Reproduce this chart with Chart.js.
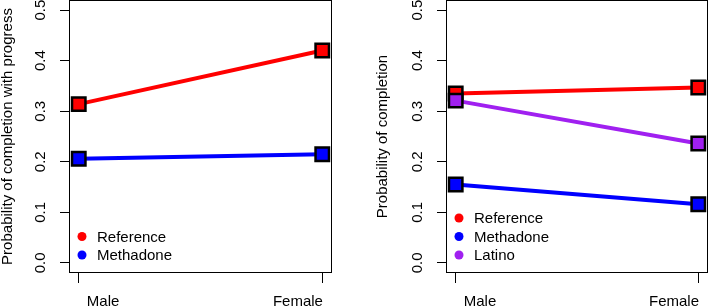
<!DOCTYPE html>
<html>
<head>
<meta charset="utf-8">
<script src="https://cdn.jsdelivr.net/npm/chart.js@4"></script>
<style>
  html, body { margin: 0; padding: 0; background: #fff; }
  #wrap { position: relative; width: 709px; height: 306px; overflow: hidden; }
  .panel { position: absolute; top: 0; height: 306px; }
  #left { left: 0; width: 354px; }
  #right { left: 354px; width: 355px; }
</style>
</head>
<body>
<div id="wrap">
  <div class="panel" id="left"><canvas id="chartLeft"></canvas></div>
  <div class="panel" id="right"><canvas id="chartRight"></canvas></div>
</div>
<script>
// values
const categories = ["Male", "Female"];
const labelShift = [0.1, -0.1]; // labels sit a bit inside their ticks
const yTicks = [0, 0.1, 0.2, 0.3, 0.4, 0.5];

const progressReference = [0.314, 0.42];
const progressMethadone = [0.206, 0.215];

const completionReference = [0.335, 0.347];
const completionMethadone = [0.155, 0.116];
const completionLatino = [0.321, 0.236];

const RED = "#ff0000";
const BLUE = "#0000ff";
const PURPLE = "#a020f0";
const FONT = "'Liberation Sans', Arial, Helvetica, sans-serif";

Chart.defaults.font.family = FONT;
Chart.defaults.font.size = 15;
Chart.defaults.color = "#000";

function makeSeries(label, values, color, idx) {
  return {
    label,
    data: values.map((v, i) => ({ x: i + 1, y: v })),
    order: -idx, // later series sit on top, as in R
    borderColor: color,
    backgroundColor: color,
    borderWidth: 4,
    pointStyle: "rect",
    pointRadius: 9.5,
    pointBackgroundColor: color,
    pointBorderColor: "#000",
    pointBorderWidth: 2.5,
    clip: false,
  };
}

// frame, rotated y labels and in-plot legend, like base R graphics
const rStyle = {
  id: "rStyle",
  beforeDatasetsDraw(chart) {
    const { ctx, chartArea: a } = chart;
    ctx.save();
    ctx.strokeStyle = "#000";
    ctx.lineWidth = 1;
    ctx.strokeRect(Math.round(a.left) + 0.5, Math.round(a.top) + 0.5,
      Math.round(a.right - a.left) - 1, Math.round(a.bottom - a.top) - 1);
    const y = chart.scales.y;
    ctx.font = "15px " + FONT;
    ctx.fillStyle = "#000";
    ctx.textAlign = "center";
    ctx.textBaseline = "middle";
    y.ticks.forEach((t) => {
      ctx.save();
      ctx.translate(a.left - 28, y.getPixelForValue(t.value));
      ctx.rotate(-Math.PI / 2);
      ctx.fillText(t.value.toFixed(1), 0, 0);
      ctx.restore();
    });
    ctx.restore();
  },
  afterDraw(chart) {
    const { ctx, chartArea: a } = chart;
    const sets = chart.data.datasets;
    ctx.save();
    ctx.font = "15px " + FONT;
    ctx.textAlign = "left";
    ctx.textBaseline = "middle";
    sets.forEach((ds, i) => {
      const rowY = a.bottom - 18 - (sets.length - 1 - i) * 18.5;
      ctx.fillStyle = ds.borderColor;
      ctx.beginPath();
      ctx.arc(a.left + 13, rowY, 4.5, 0, Math.PI * 2);
      ctx.fill();
      ctx.fillStyle = "#000";
      ctx.fillText(ds.label, a.left + 28, rowY + 1);
    });
    ctx.restore();
  },
};

function makeChart(id, datasets, yTitle, leftWidth, rightPad, titleOffset) {
  return new Chart(document.getElementById(id), {
    type: "line",
    data: { datasets },
    options: {
      responsive: true,
      maintainAspectRatio: false,
      animation: false,
      layout: { autoPadding: false, padding: { top: 0, right: rightPad, bottom: 0, left: 0 } },
      plugins: { legend: { display: false }, tooltip: { enabled: false } },
      scales: {
        // tick marks only
        x: {
          type: "linear",
          position: "bottom",
          weight: 0,
          min: 0.96,
          max: 2.04,
          afterBuildTicks: (s) => { s.ticks = categories.map((c, i) => ({ value: i + 1 })); },
          afterFit: (s) => { s.height = 10; s.paddingLeft = 0; s.paddingRight = 0; },
          ticks: { display: false },
          grid: { drawOnChartArea: false, drawTicks: true, tickLength: 10, color: "#000" },
          border: { display: false },
        },
        // category labels, nudged inwards
        xl: {
          type: "linear",
          position: "bottom",
          weight: 1,
          min: 0.96,
          max: 2.04,
          afterBuildTicks: (s) => { s.ticks = categories.map((c, i) => ({ value: i + 1 + labelShift[i] })); },
          afterFit: (s) => { s.height = 23; s.paddingLeft = 0; s.paddingRight = 0; },
          ticks: {
            autoSkip: false,
            maxRotation: 0,
            padding: 10,
            callback: (v, i) => categories[i],
          },
          grid: { display: false, drawTicks: false },
          border: { display: false },
        },
        y: {
          min: -0.02,
          max: 0.52,
          afterBuildTicks: (s) => { s.ticks = yTicks.map((v) => ({ value: v })); },
          afterFit: (s) => { s.width = leftWidth; },
          ticks: { display: false },
          grid: { drawOnChartArea: false, drawTicks: true, tickLength: 9, color: "#000" },
          border: { display: false },
          title: {
            display: true,
            text: yTitle,
            font: { size: 15, lineHeight: 1 },
            padding: { top: titleOffset, bottom: 0 },
          },
        },
      },
    },
    plugins: [rStyle],
  });
}

makeChart("chartLeft", [
  makeSeries("Reference", progressReference, RED, 0),
  makeSeries("Methadone", progressMethadone, BLUE, 1),
], "Probability of completion with progress", 69, 22, 0);

makeChart("chartRight", [
  makeSeries("Reference", completionReference, RED, 0),
  makeSeries("Methadone", completionMethadone, BLUE, 1),
  makeSeries("Latino", completionLatino, PURPLE, 2),
], "Probability of completion", 92, 1, 21);
</script>
</body>
</html>
